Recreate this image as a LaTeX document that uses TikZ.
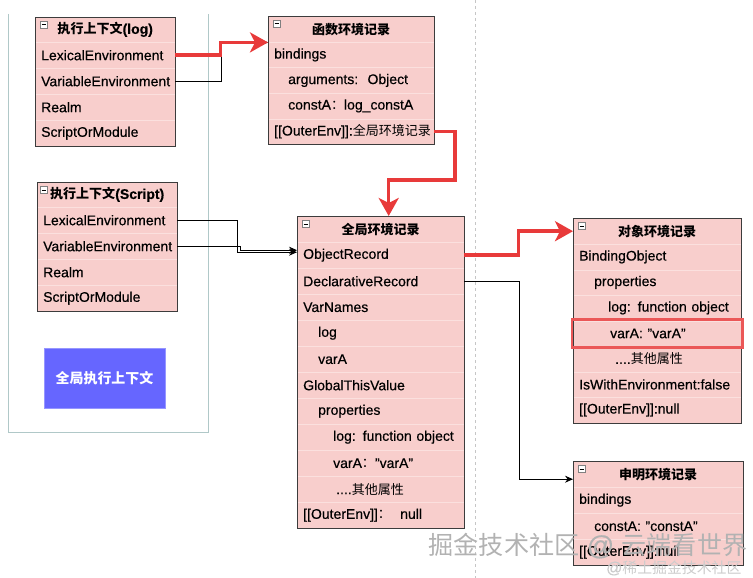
\documentclass[tikz,border=0pt]{standalone}
\usepackage{fontspec}
\setmainfont{Liberation Sans}[FakeBold=0.4]
\newfontfamily\cjk{Noto Sans CJK SC}[Scale=0.93]
\newcommand\zh[1]{{\cjk #1}}
\usepackage{xcolor}
\usepackage{tikz}
\usetikzlibrary{arrows.meta}

\definecolor{rosa}{RGB}{248,206,204}
\definecolor{trenn}{RGB}{251,224,222}
\definecolor{rand}{RGB}{60,60,60}
\definecolor{rot}{RGB}{232,58,58}
\definecolor{blau}{RGB}{102,102,255}
\definecolor{blaurand}{RGB}{150,150,255}
\definecolor{huelle}{RGB}{176,200,200}

\begin{document}
\begin{tikzpicture}[x=1pt, y=-1pt,
kopf/.style={draw=rand, fill=rosa, inner sep=0pt, minimum height=25pt, minimum width=#1, anchor=north west, font=\bfseries\fontsize{14}{16}\selectfont},
zeile/.style={draw=trenn, fill=rosa, inner xsep=6pt, inner ysep=0pt, minimum height=26pt, text width=#1, anchor=north west, align=left, font=\fontsize{14}{16}\selectfont},
knopf/.style={draw=gray, fill=white, minimum size=7pt, inner sep=0pt, anchor=north west, path picture={\draw[black] ([xshift=1.5pt]path picture bounding box.west) -- ([xshift=-1.5pt]path picture bounding box.east);}},
rotpfeil/.style={rot, line width=3.5pt, -{Stealth[length=18pt, width=20pt, inset=5pt]}},
pfeil/.style={black, line width=0.8pt, -{Stealth[length=8pt, width=7pt]}},
]
\useasboundingbox (0,0) rectangle (753,578);

% container and separator
\draw[huelle, line width=0.8pt] (8,14) |- (208,432) -- (208,14);
\draw[gray!45, dashed, line width=0.6pt] (475,0) -- (475,578);

% execution context (log)
\node[kopf=140pt] (k1) at (35,17) {\zh{执行上下文}(log)};
\node[zeile=128pt] (a1) at (35,42) {LexicalEnvironment};
\node[zeile=128pt] (a2) at (35,68) {VariableEnvironment};
\node[zeile=128pt] (a3) at (35,94) {Realm};
\node[zeile=128pt] (a4) at (35,120) {ScriptOrModule};
\draw[rand] (k1.north west) rectangle (a4.south east);
\node[knopf] (i1) at ([xshift=5pt,yshift=-4pt]k1.north west) {};

% function environment record
\node[kopf=166pt, minimum height=26pt] (k2) at (268,16) {\zh{函数环境记录}};
\node[zeile=154pt, minimum height=25.5pt] (b1) at (268,42) {bindings};
\node[zeile=154pt, minimum height=25.5pt] (b2) at (268,67.5) {\hspace*{14pt}arguments:\ \ Object};
\node[zeile=154pt, minimum height=25.5pt] (b3) at (268,93) {\hspace*{14pt}constA\zh{：}log\_constA};
\node[zeile=154pt, minimum height=25.5pt] (b4) at (268,118.5) {[[OuterEnv]]:\zh{全局环境记录}};
\draw[rand] (k2.north west) rectangle (b4.south east);
\node[knopf] (i2) at ([xshift=5pt,yshift=-4pt]k2.north west) {};

% execution context (Script)
\node[kopf=140pt] (k3) at (37,182) {\zh{执行上下文}(Script)};
\node[zeile=128pt] (c1) at (37,207) {LexicalEnvironment};
\node[zeile=128pt] (c2) at (37,233) {VariableEnvironment};
\node[zeile=128pt] (c3) at (37,259) {Realm};
\node[zeile=128pt] (c4) at (37,285) {ScriptOrModule};
\draw[rand] (k3.north west) rectangle (c4.south east);
\node[knopf] (i3) at ([xshift=3pt,yshift=-4pt]k3.north west) {};

% global execution context
\node[draw=blaurand, fill=blau, text=white, minimum width=121pt, minimum height=60pt, font=\bfseries\fontsize{15}{17}\selectfont] (g) at (104.5,378) {\zh{全局执行上下文}};

% global environment record
\node[kopf=167pt, minimum height=26pt] (k4) at (297,216) {\zh{全局环境记录}};
\node[zeile=155pt] (d1) at (297,242) {ObjectRecord};
\node[zeile=155pt] (d2) at (297,268) {DeclarativeRecord};
\node[zeile=155pt] (d3) at (297,294) {VarNames};
\node[zeile=155pt] (d4) at (297,320) {\hspace*{15pt}log};
\node[zeile=155pt] (d5) at (297,346) {\hspace*{15pt}varA};
\node[zeile=155pt] (d6) at (297,372) {GlobalThisValue};
\node[zeile=155pt] (d7) at (297,398) {\hspace*{15pt}properties};
\node[zeile=155pt] (d8) at (297,424) {\hspace*{30pt}log: function object};
\node[zeile=155pt] (d9) at (297,450) {\hspace*{30pt}varA\zh{：}"varA"};
\node[zeile=155pt] (d10) at (297,476) {\hspace*{33pt}....\zh{其他属性}};
\node[zeile=155pt] (d11) at (297,502) {[[OuterEnv]]\zh{：}\ \ null};
\draw[rand] (k4.north west) rectangle (d11.south east);
\node[knopf] (i4) at ([xshift=5pt,yshift=-4pt]k4.north west) {};

% object environment record
\node[kopf=168pt, minimum height=26pt] (k5) at (573,218) {\zh{对象环境记录}};
\node[zeile=156pt, minimum height=25.5pt] (e1) at (573,244) {BindingObject};
\node[zeile=156pt, minimum height=25.5pt] (e2) at (573,269.5) {\hspace*{15pt}properties};
\node[zeile=156pt, minimum height=25.5pt] (e3) at (573,295) {\hspace*{29pt}log: function object};
\node[zeile=156pt, minimum height=25.5pt] (e4) at (573,320.5) {\hspace*{31pt}varA: "varA"};
\node[zeile=156pt, minimum height=25.5pt] (e5) at (573,346) {\hspace*{36pt}....\zh{其他属性}};
\node[zeile=156pt, minimum height=25.5pt] (e6) at (573,371.5) {IsWithEnvironment:false};
\node[zeile=156pt, minimum height=25.5pt] (e7) at (573,397) {[[OuterEnv]]:null};
\draw[rand] (k5.north west) rectangle (e7.south east);
\node[knopf] (i5) at ([xshift=5pt,yshift=-4pt]k5.north west) {};
\draw[rot!85!white, line width=2.5pt] ([xshift=-1pt,yshift=1pt]e4.north west) rectangle ([xshift=1pt,yshift=-1pt]e4.south east);

% declarative environment record
\node[kopf=170pt, minimum height=26pt] (k6) at (573,461) {\zh{申明环境记录}};
\node[zeile=158pt] (f1) at (573,487) {bindings};
\node[zeile=158pt] (f2) at (573,513) {\hspace*{15pt}constA: "constA"};
\node[zeile=158pt] (f3) at (573,539) {[[OuterEnv]]:null};
\draw[rand] (k6.north west) rectangle (f3.south east);
\node[knopf] (i6) at ([xshift=5pt,yshift=-4pt]k6.north west) {};

% connectors
\draw[pfeil] (a2.east) -- ++(46,0) |- (k2.south west);
\draw[rotpfeil] (a1.east) -- ++(45,0) |- (k2.south west);
\draw[rotpfeil] (b4.east) -| (455,180) -| ([xshift=8pt]k4.north);
\draw[pfeil] (c1.east) -- ++(60,0) |- ([yshift=3pt]d1.west);
\draw[pfeil] (c2.east) -- ++(63,0) |- ([yshift=5pt]d1.west);
\draw[rotpfeil] (d1.east) -- ++(54,0) |- (k5.west);
\draw[pfeil] (d2.east) -- ++(55,0) |- ([yshift=-5pt]k6.west);

% watermark
\node[text=gray!60, font=\fontsize{27}{29}\selectfont] (w1) at (588,546) {\zh{掘金技术社区} @ \zh{云端看世界}};
\node[text=gray!40, font=\fontsize{16}{18}\selectfont, anchor=east] (w2) at (745,568) {@\zh{稀土掘金技术社区}};
\end{tikzpicture}
\end{document}
